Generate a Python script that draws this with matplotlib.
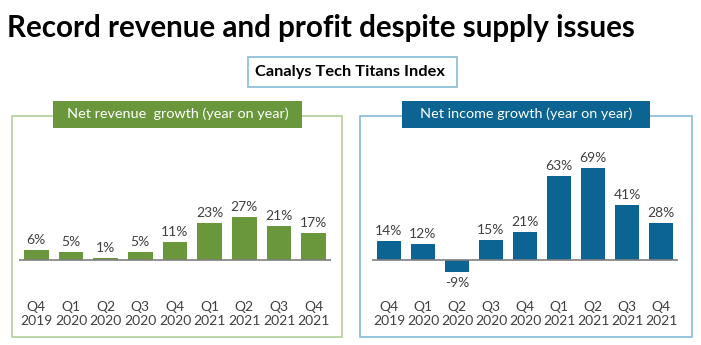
import matplotlib.pyplot as plt
from matplotlib.patches import Rectangle

plt.rcParams['font.family'] = ['Lato', 'DejaVu Sans']

quarters = ['Q4\n2019', 'Q1\n2020', 'Q2\n2020', 'Q3\n2020', 'Q4\n2020',
            'Q1\n2021', 'Q2\n2021', 'Q3\n2021', 'Q4\n2021']
revenue_growth = [6, 5, 1, 5, 11, 23, 27, 21, 17]
income_growth = [14, 12, -9, 15, 21, 63, 69, 41, 28]

GREEN = '#6b973c'
GREEN_FRAME = '#b2cf98'
BLUE = '#0b6491'
BLUE_FRAME = '#86bcd8'
TEXT = '#404040'

W, H = 701, 345
fig = plt.figure(figsize=(W / 100, H / 100), dpi=100)
fig.patch.set_facecolor('white')


def px_box(x0, y0, x1, y1):
    # pixel box (top-left origin) -> figure fraction rect
    return [x0 / W, 1 - y1 / H, (x1 - x0) / W, (y1 - y0) / H]


def frame(x0, y0, x1, y1, edge, face='none', lw=1.2):
    l, b, w, h = px_box(x0, y0, x1, y1)
    fig.patches.append(Rectangle((l, b), w, h, transform=fig.transFigure,
                                 facecolor=face, edgecolor=edge, linewidth=lw))


fig.text(7 / W, 1 - 28 / H, 'Record revenue and profit despite supply issues',
         fontsize=21.3, fontweight='bold', color='black', va='center', ha='left')

frame(248, 57, 457, 87, BLUE_FRAME, lw=1.2)
fig.text(350 / W, 1 - 72 / H, 'Canalys Tech Titans Index', fontsize=11.8,
         fontweight='bold', color='black', ha='center', va='center')


def panel(values, color, frame_col, title, fx, label_box, ax_x, ylim):
    frame(fx[0], 116, fx[1], 337, frame_col, lw=1.2)
    frame(label_box[0], 101, label_box[1], 128, color, face=color, lw=0)
    fig.text((label_box[0] + label_box[1]) / 2 / W, 1 - 114 / H, title,
             fontsize=10.4, color='white', ha='center', va='center')

    ax = fig.add_axes(px_box(ax_x[0], 140, ax_x[1], 298))
    ax.set_facecolor('none')
    x = range(len(values))
    bars = ax.bar(x, values, width=0.72, color=color, zorder=2)
    ax.axhline(0, color='#7f7f7f', linewidth=1.2, zorder=3)
    for b, v in zip(bars, values):
        ax.annotate(f'{v}%', (b.get_x() + b.get_width() / 2, v),
                    xytext=(0, 3 if v >= 0 else -4), textcoords='offset points',
                    ha='center', va='bottom' if v >= 0 else 'top',
                    fontsize=10, color=TEXT)
    ax.set_xlim(-0.5, len(values) - 0.5)
    ax.set_ylim(*ylim)
    ax.set_xticks(list(x))
    ax.set_xticklabels(quarters, fontsize=10, color=TEXT, linespacing=1.18)
    ax.tick_params(axis='x', length=0, pad=2.5)
    ax.set_yticks([])
    for s in ax.spines.values():
        s.set_visible(False)
    return ax


panel(revenue_growth, GREEN, GREEN_FRAME, 'Net revenue  growth (year on year)',
      (12, 342), (53, 302), (19, 331), (-23.75, 75))
panel(income_growth, BLUE, BLUE_FRAME, 'Net income growth (year on year)',
      (360, 692), (402, 650), (372, 678), (-28.6, 90.2))

fig.savefig('out.png', dpi=100, facecolor='white')
